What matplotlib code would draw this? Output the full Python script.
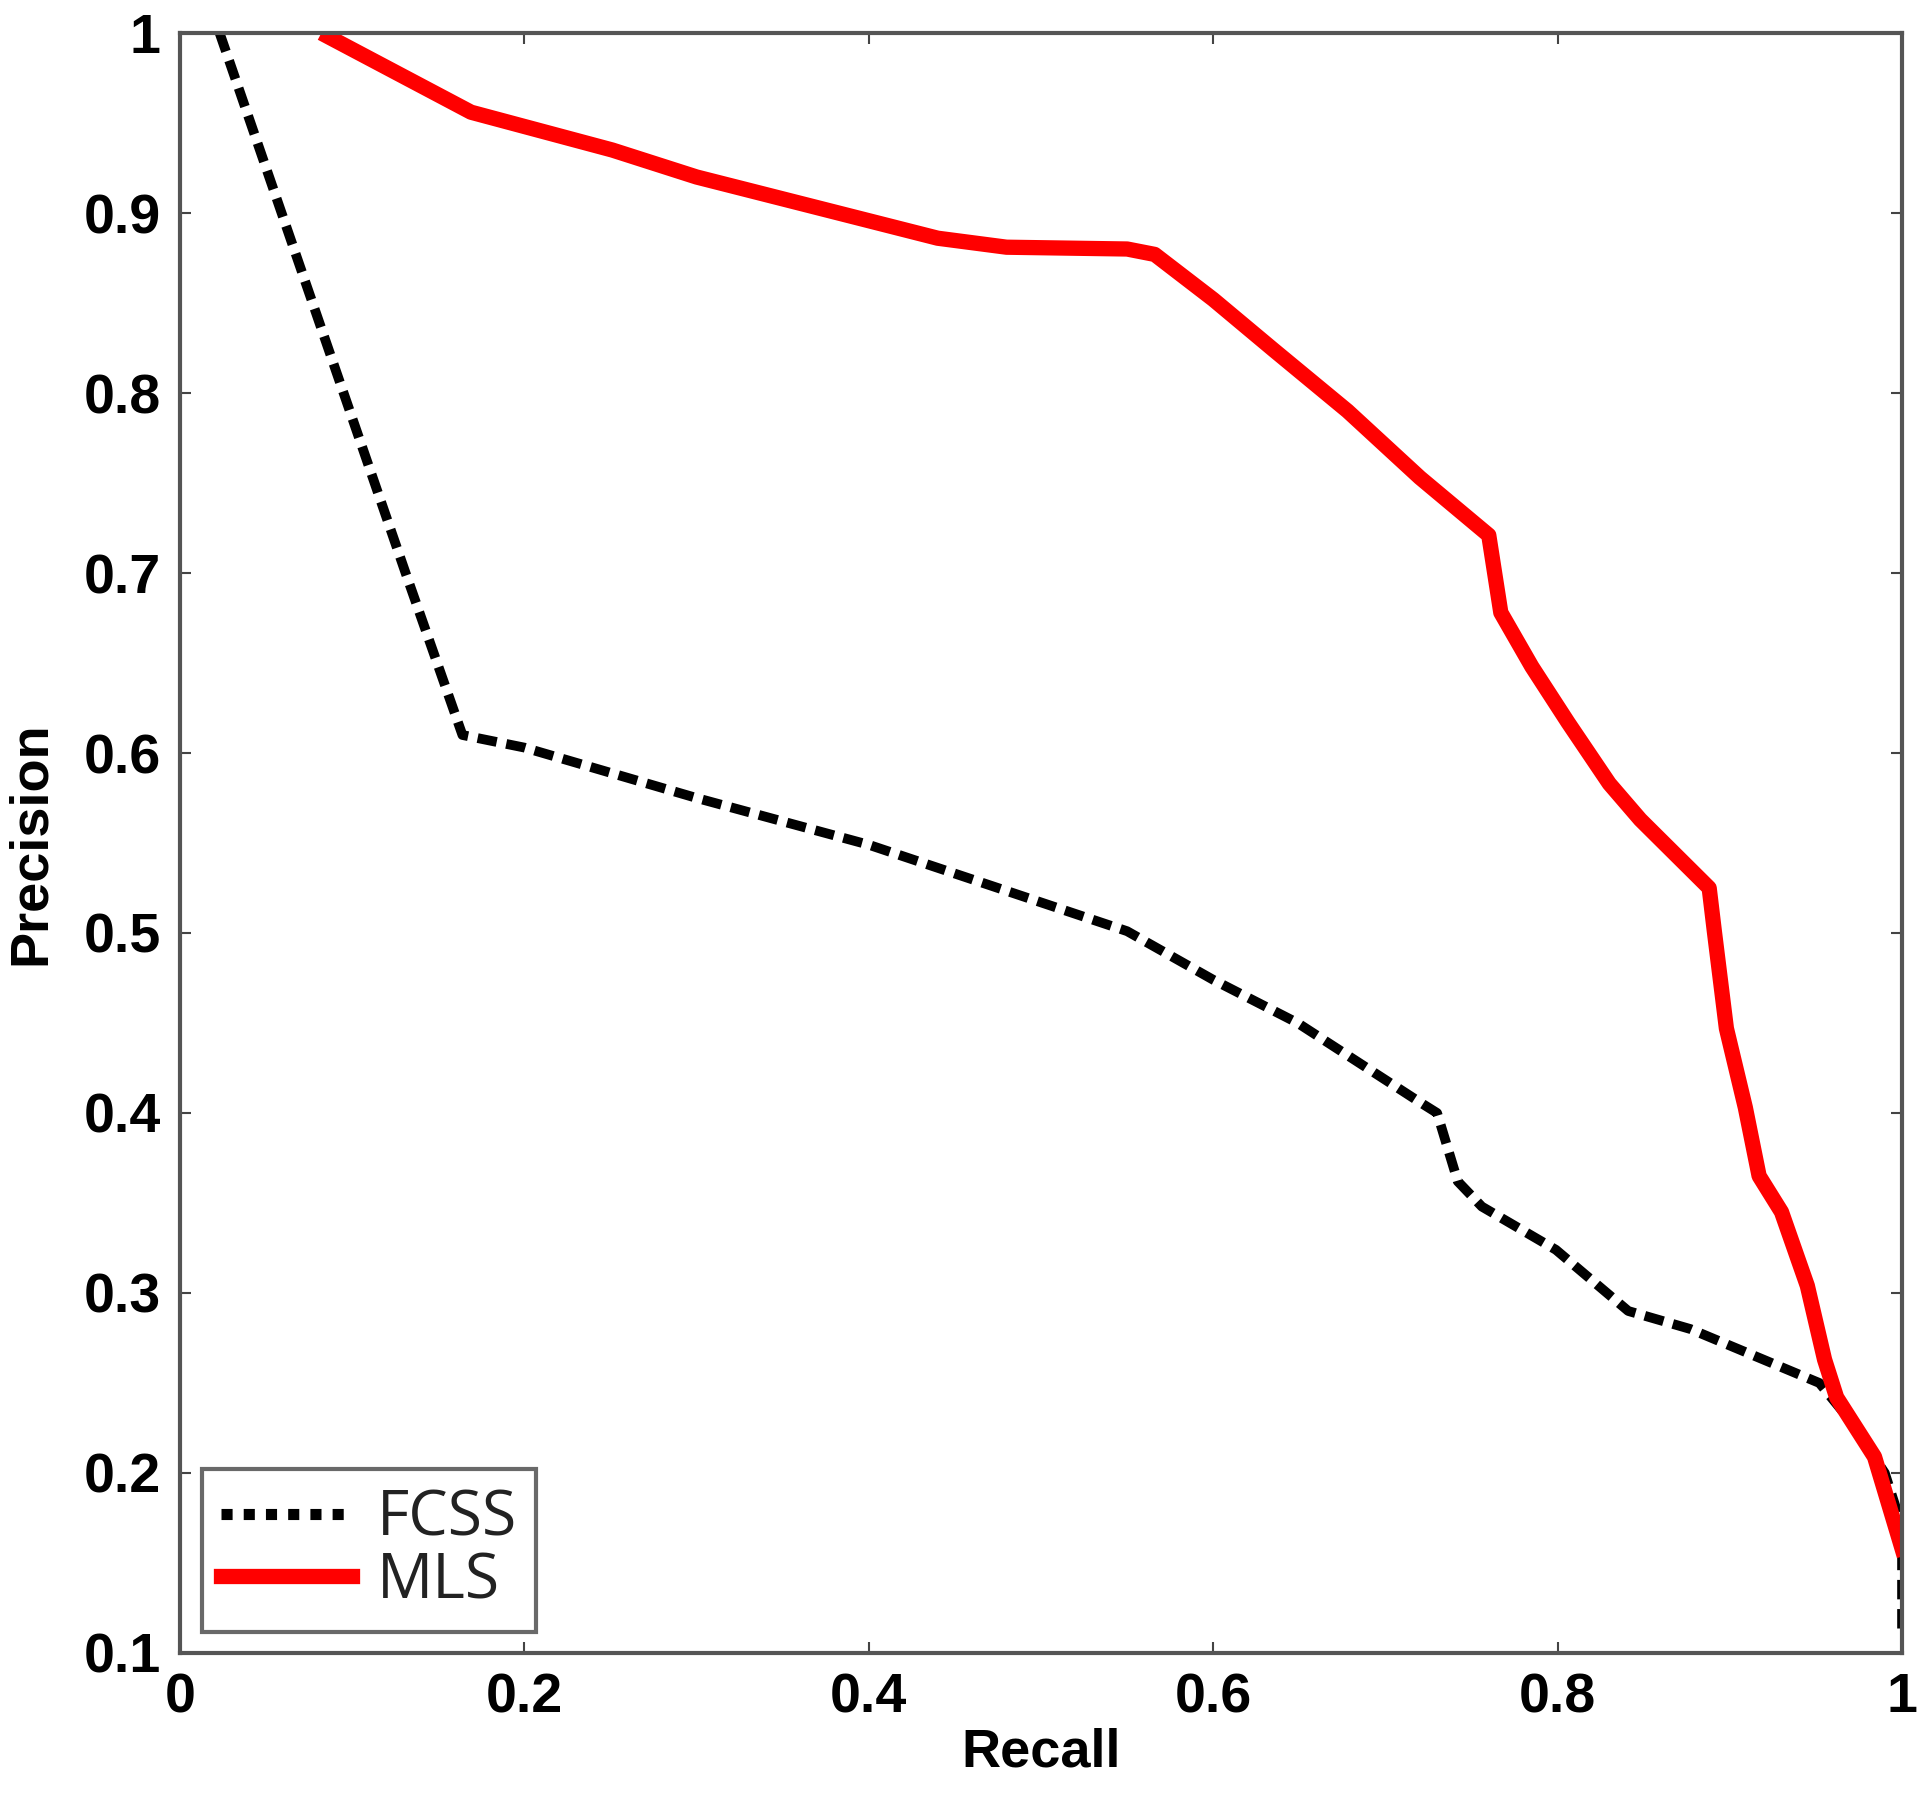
import matplotlib
matplotlib.use("Agg")
import numpy as np
from matplotlib import pyplot as plt
from matplotlib.lines import Line2D

# values
fcss_recall = [0.023, 0.095, 0.131, 0.164, 0.20, 0.30, 0.40, 0.55, 0.60, 0.649,
               0.72, 0.73, 0.742, 0.756, 0.799, 0.841, 0.877, 0.952, 0.97, 0.99, 1.0, 1.0]
fcss_precision = [1.0, 0.80, 0.70, 0.61, 0.603, 0.575, 0.549, 0.501, 0.474, 0.45,
                  0.406, 0.40, 0.362, 0.348, 0.324, 0.29, 0.28, 0.25, 0.229, 0.20, 0.17, 0.11]

mls_recall = [0.086, 0.169, 0.251, 0.30, 0.44, 0.48, 0.55, 0.566, 0.60, 0.635, 0.678,
              0.72, 0.76, 0.767, 0.785, 0.806, 0.83, 0.848, 0.888, 0.891, 0.898, 0.909,
              0.917, 0.93, 0.945, 0.955, 0.962, 0.984, 1.0]
mls_precision = [0.998, 0.956, 0.935, 0.92, 0.886, 0.881, 0.88, 0.877, 0.852, 0.824, 0.79,
                 0.753, 0.721, 0.678, 0.648, 0.617, 0.583, 0.563, 0.525, 0.501, 0.447, 0.403,
                 0.365, 0.345, 0.304, 0.263, 0.242, 0.209, 0.158]

x_ticks = [0, 0.2, 0.4, 0.6, 0.8, 1]
x_labels = ["0", "0.2", "0.4", "0.6", "0.8", "1"]
y_ticks = [0.1, 0.2, 0.3, 0.4, 0.5, 0.6, 0.7, 0.8, 0.9, 1]
y_labels = ["0.1", "0.2", "0.3", "0.4", "0.5", "0.6", "0.7", "0.8", "0.9", "1"]

plt.rcParams["font.family"] = ["Liberation Sans", "DejaVu Sans"]

fig = plt.figure(figsize=(19.2, 17.94), dpi=100)
ax = fig.add_axes([0.09375, 0.0786, 0.8969, 0.903])

ax.plot(fcss_recall, fcss_precision, color="black", lw=7, dashes=(2, 1),
        solid_capstyle="butt", dash_capstyle="butt")
ax.plot(mls_recall, mls_precision, color="#ff0000", lw=11, solid_joinstyle="round")

ax.set_xlim(0, 1)
ax.set_ylim(0.1, 1)
ax.set_xticks(x_ticks)
ax.set_xticklabels(x_labels)
ax.set_yticks(y_ticks)
ax.set_yticklabels(y_labels)
ax.tick_params(direction="in", length=8, width=1.5, color="#444444",
               top=True, right=True, labelsize=40, pad=14)
for lab in ax.get_xticklabels() + ax.get_yticklabels():
    lab.set_fontweight("bold")
for s in ax.spines.values():
    s.set_color("#555555")
    s.set_linewidth(3)

ax.set_xlabel("Recall", fontsize=39, fontweight="bold", labelpad=2)
ax.set_ylabel("Precision", fontsize=39, fontweight="bold", labelpad=20)

# legend handles: FCSS drawn as square dots in the legend box
h_fcss = Line2D([], [], color="black", lw=8, dashes=(1, 1))
h_mls = Line2D([], [], color="#ff0000", lw=11)
leg = ax.legend([h_fcss, h_mls], ["FCSS", "MLS"], loc="lower left",
                bbox_to_anchor=(0.0128, 0.013), fancybox=False,
                prop={"family": "Open Sans", "size": 45}, handlelength=2.1,
                handletextpad=0.4, borderpad=0.3, labelspacing=0.0, borderaxespad=0)
leg.get_frame().set_edgecolor("#444444")
leg.get_frame().set_linewidth(3)
for t in leg.get_texts():
    t.set_color("#222222")

fig.savefig("out.png", dpi=100)
